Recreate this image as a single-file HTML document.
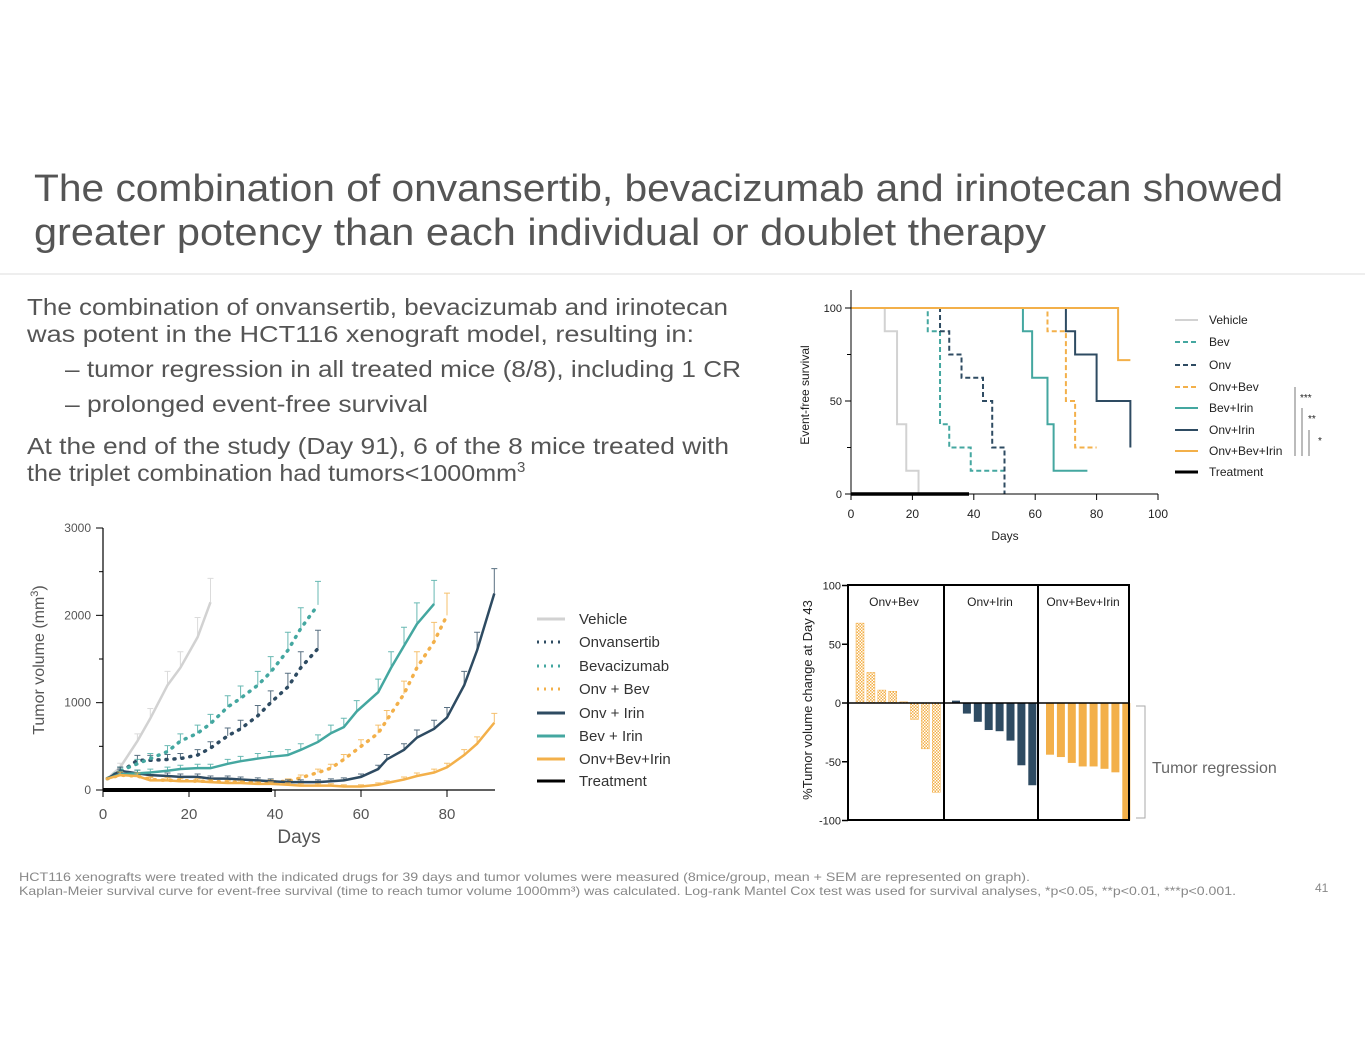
<!DOCTYPE html>
<html><head><meta charset="utf-8"><style>
body{margin:0;background:#fff;font-family:"Liberation Sans",sans-serif}
svg{display:block}
</style></head><body>
<svg id="s" width="1365" height="1055" xmlns="http://www.w3.org/2000/svg" font-family="Liberation Sans, sans-serif">
<text x="34" y="201" font-size="38" fill="#555" textLength="1249" lengthAdjust="spacingAndGlyphs">The combination of onvansertib, bevacizumab and irinotecan showed</text>
<text x="34" y="245" font-size="38" fill="#555" textLength="1012" lengthAdjust="spacingAndGlyphs">greater potency than each individual or doublet therapy</text>
<rect x="0" y="273" width="1365" height="2" fill="#eee"/>
<g fill="#555" font-size="23">
<text x="27" y="315" textLength="701" lengthAdjust="spacingAndGlyphs">The combination of onvansertib, bevacizumab and irinotecan</text>
<text x="27" y="342" textLength="667" lengthAdjust="spacingAndGlyphs">was potent in the HCT116 xenograft model, resulting in:</text>
<text x="65" y="377" textLength="676" lengthAdjust="spacingAndGlyphs">–  tumor regression in all treated mice (8/8), including 1 CR</text>
<text x="65" y="412" textLength="363" lengthAdjust="spacingAndGlyphs">–  prolonged event-free survival</text>
<text x="27" y="454" textLength="702" lengthAdjust="spacingAndGlyphs">At the end of the study (Day 91), 6 of the 8 mice treated with</text>
<text x="27" y="481"><tspan textLength="490" lengthAdjust="spacingAndGlyphs">the triplet combination had tumors&lt;1000mm</tspan><tspan font-size="15" dy="-9">3</tspan></text>
</g>
<g fill="#888" font-size="12">
<text x="19" y="881" textLength="1011" lengthAdjust="spacingAndGlyphs">HCT116 xenografts were treated with the indicated drugs for 39 days and tumor volumes were measured (8mice/group, mean + SEM are represented on graph).</text>
<text x="19" y="895" textLength="1217" lengthAdjust="spacingAndGlyphs">Kaplan-Meier survival curve for event-free survival (time to reach tumor volume 1000mm³) was calculated. Log-rank Mantel Cox test was used for survival analyses, *p&lt;0.05, **p&lt;0.01, ***p&lt;0.001.</text>
<text x="1315" y="892">41</text>
</g>
<g id="tv"></g>
<g id="km"></g>
<g id="wf"></g>
</svg>
<script>
const NS="http://www.w3.org/2000/svg";
function mk(p,t,a,txt){const e=document.createElementNS(NS,t);for(const k in a)e.setAttribute(k,a[k]);if(txt!==undefined)e.textContent=txt;p.appendChild(e);return e;}
const C={grey:"#d2d2d2",teal:"#44a7a0",dark:"#2e4b62",orange:"#f3b04a"};

// ---- tumor volume data ----
const tvNames=["Vehicle","Onvansertib","Bevacizumab","Onv + Bev","Onv + Irin","Bev + Irin","Onv+Bev+Irin"];
const dVeh=[1,4,8,11,15,18,22,25];
const vVeh=[130,260,560,820,1200,1400,1750,2150];
const dMono=[1,4,8,11,15,18,22,25,29,32,36,39,43,46,50];
const vOnv=[130,200,340,340,350,360,400,480,620,700,850,1000,1180,1400,1620];
const vBev=[130,220,300,360,440,560,650,760,950,1050,1200,1350,1600,1850,2120];
const dOB=[1,4,8,11,15,18,22,25,29,32,36,39,43,46,50,53,56,60,64,66,70,73,77,80];
const vOB=[130,170,160,120,110,110,100,100,90,90,90,90,100,140,200,250,350,500,650,800,1100,1400,1700,2000];
const dBI=[1,4,8,11,15,18,22,25,29,32,36,39,43,46,50,53,56,59,64,67,70,73,77];
const vBI=[130,180,190,200,220,240,250,250,300,330,360,380,400,460,550,650,720,900,1120,1400,1650,1900,2130];
const dLong=[1,4,8,11,15,18,22,25,29,32,36,39,43,46,50,53,56,60,64,66,70,73,77,80,84,87,91];
const vOI=[130,220,190,170,160,150,150,130,130,120,110,100,90,90,90,100,110,150,240,350,460,600,700,830,1200,1600,2250];
const vTri=[130,170,160,110,110,100,100,90,80,80,70,70,60,50,50,50,40,40,60,80,120,160,200,260,400,530,770];
const tvYTicks=[0,1000,2000,3000];
const tvXTicks=[0,20,40,60,80];
const tvX=d=>103+d*4.3, tvY=v=>790-v*0.08733;
(function(){
 const g=document.getElementById('tv');
 const series=[
  {d:dVeh,v:vVeh,c:C.grey,da:""},
  {d:dMono,v:vOnv,c:C.dark,da:"1 7"},
  {d:dMono,v:vBev,c:C.teal,da:"1 7"},
  {d:dOB,v:vOB,c:C.orange,da:"1 7"},
  {d:dLong,v:vOI,c:C.dark,da:""},
  {d:dBI,v:vBI,c:C.teal,da:""},
  {d:dLong,v:vTri,c:C.orange,da:""}];
 series.forEach((s,i)=>{
  s.d.forEach((d,j)=>{ if(j>0){const e=s.v[j]*0.12+15;
   const l=mk(g,'path',{d:`M${tvX(d)},${tvY(s.v[j])}V${tvY(s.v[j]+e)}M${tvX(d)-3},${tvY(s.v[j]+e)}H${tvX(d)+3}`,stroke:s.c,'stroke-width':1,fill:'none',opacity:0.8});
   }});
  const p=mk(g,'polyline',{points:s.d.map((d,j)=>tvX(d)+','+tvY(s.v[j])).join(' '),fill:'none',stroke:s.c,'stroke-width':s.da?3.5:2.5,'stroke-dasharray':s.da,'stroke-linecap':s.da?'round':'butt'});
  
 });
 mk(g,'line',{x1:103,y1:790,x2:272,y2:790,stroke:'#000','stroke-width':4});
 mk(g,'line',{x1:103,y1:528,x2:103,y2:790,stroke:'#000','stroke-width':1.2});
 mk(g,'line',{x1:103,y1:790,x2:495,y2:790,stroke:'#000','stroke-width':1.2});
 tvYTicks.forEach(t=>{mk(g,'line',{x1:96,x2:103,y1:tvY(t),y2:tvY(t),stroke:'#000'});
  mk(g,'text',{x:91,y:tvY(t)+4,'font-size':12,'text-anchor':'end',fill:'#555'},t);});
 [500,1500,2500].forEach(t=>mk(g,'line',{x1:99,x2:103,y1:tvY(t),y2:tvY(t),stroke:'#000'}));
 tvXTicks.forEach(t=>{mk(g,'line',{x1:tvX(t),x2:tvX(t),y1:790,y2:797,stroke:'#000'});
  mk(g,'text',{x:tvX(t),y:819,'font-size':15,'text-anchor':'middle',fill:'#555'},t);});
 mk(g,'text',{x:299,y:843,'font-size':19,'text-anchor':'middle',fill:'#555'},'Days');
 const yt=mk(g,'text',{x:44,y:660,'font-size':16,'text-anchor':'middle',fill:'#555',transform:'rotate(-90 44 660)'},'Tumor volume (mm');
 mk(yt,'tspan',{'font-size':11,dy:-6},'3');mk(yt,'tspan',{dy:6},')');
 const ly=[619,642,666,689,713,736,759,781];
 const lc=[[C.grey,""],[C.dark,"2 5"],[C.teal,"2 5"],[C.orange,"2 5"],[C.dark,""],[C.teal,""],[C.orange,""],["#000",""]];
 const ln=tvNames.concat(["Treatment"]);
 ln.forEach((n,i)=>{const e=mk(g,'line',{x1:537,x2:565,y1:ly[i],y2:ly[i],stroke:lc[i][0],'stroke-width':3,'stroke-dasharray':lc[i][1]});
  
  mk(g,'text',{x:579,y:ly[i]+5,'font-size':15,fill:'#333'},n);});
})();

// ---- KM data ----
const kmNames=["Vehicle","Bev","Onv","Onv+Bev","Bev+Irin","Onv+Irin","Onv+Bev+Irin"];
const kmVehT=[0,11,15,18,22], kmVehS=[100,87.5,37.5,12.5,0];
const kmBevT=[0,25,29,32,39,50], kmBevS=[100,87.5,37.5,25,12.5,0];
const kmOnvT=[0,29,32,36,43,46,50], kmOnvS=[100,87.5,75,62.5,50,25,0];
const kmOBT=[0,64,70,73,80], kmOBS=[100,87.5,50,25,25];
const kmBIT=[0,56,59,64,66,77], kmBIS=[100,87.5,62.5,37.5,12.5,12.5];
const kmOIT=[0,70,73,80,91], kmOIS=[100,87.5,75,50,25];
const kmTriT=[0,87,91], kmTriS=[100,72,72];
const kmXTicks=[0,20,40,60,80,100], kmYTicks=[0,50,100];
const kmX=d=>851+d*3.07, kmY=s=>494-s*1.86;
(function(){
 const g=document.getElementById('km');
 const se=[[kmVehT,kmVehS,C.grey,""],[kmBevT,kmBevS,C.teal,"5 3"],[kmOnvT,kmOnvS,C.dark,"5 3"],[kmOBT,kmOBS,C.orange,"5 3"],[kmBIT,kmBIS,C.teal,""],[kmOIT,kmOIS,C.dark,""],[kmTriT,kmTriS,C.orange,""]];
 se.forEach((s,i)=>{let d=`M${kmX(s[0][0])},${kmY(s[1][0])}`;
  for(let j=1;j<s[0].length;j++){d+=`H${kmX(s[0][j])}V${kmY(s[1][j])}`;}
  const p=mk(g,'path',{d,fill:'none',stroke:s[2],'stroke-width':2,'stroke-dasharray':s[3]});
  });
 mk(g,'line',{x1:851,y1:494,x2:969,y2:494,stroke:'#000','stroke-width':3.5});
 mk(g,'line',{x1:851,y1:290,x2:851,y2:494,stroke:'#000','stroke-width':1});
 mk(g,'line',{x1:851,y1:494,x2:1158,y2:494,stroke:'#000','stroke-width':1});
 kmYTicks.forEach(t=>{mk(g,'line',{x1:845,x2:851,y1:kmY(t),y2:kmY(t),stroke:'#000'});
  mk(g,'text',{x:842,y:kmY(t)+4,'font-size':11,'text-anchor':'end',fill:'#222'},t);});
 [25,75].forEach(t=>mk(g,'line',{x1:847,x2:851,y1:kmY(t),y2:kmY(t),stroke:'#000'}));
 kmXTicks.forEach(t=>{mk(g,'line',{x1:kmX(t),x2:kmX(t),y1:494,y2:500,stroke:'#000'});
  mk(g,'text',{x:kmX(t),y:518,'font-size':12,'text-anchor':'middle',fill:'#222'},t);});
 mk(g,'text',{x:1005,y:540,'font-size':12,'text-anchor':'middle',fill:'#222'},'Days');
 mk(g,'text',{x:809,y:395,'font-size':12,'text-anchor':'middle',fill:'#222',transform:'rotate(-90 809 395)'},'Event-free survival');
 const ly=[320,342,365,387,408,430,451,472];
 const lc=[[C.grey,""],[C.teal,"5 3"],[C.dark,"5 3"],[C.orange,"5 3"],[C.teal,""],[C.dark,""],[C.orange,""],["#000",""]];
 kmNames.concat(["Treatment"]).forEach((n,i)=>{const e=mk(g,'line',{x1:1175,x2:1198,y1:ly[i],y2:ly[i],stroke:lc[i][0],'stroke-width':i==7?3:2,'stroke-dasharray':lc[i][1]});
  
  mk(g,'text',{x:1209,y:ly[i]+4,'font-size':12,fill:'#222'},n);});
 [[1295,387,'***',1300],[1302,408,'**',1308],[1309,430,'*',1318]].forEach(b=>{
  mk(g,'line',{x1:b[0],x2:b[0],y1:b[1],y2:456,stroke:'#555','stroke-width':0.8});
  mk(g,'text',{x:b[3],y:b[1]+14,'font-size':10,fill:'#222'},b[2]);});
})();

// ---- waterfall data ----
const wfGroups=["Onv+Bev","Onv+Irin","Onv+Bev+Irin"];
const wfOnvBev=[68,26,11,10,1,-14,-39,-76];
const wfOnvIrin=[2,-9,-16,-23,-24,-32,-53,-70];
const wfTriplet=[-44,-46,-51,-54,-54,-56,-59,-100];
const wfYTicks=[100,50,0,-50,-100];
const wfY=v=>703-v*1.175;
(function(){
 const g=document.getElementById('wf');
 const defs=mk(g,'defs',{});
 const pat=mk(defs,'pattern',{id:'chk',width:3,height:3,patternUnits:'userSpaceOnUse'});
 mk(pat,'rect',{width:3,height:3,fill:'#fff'});mk(pat,'rect',{width:1.5,height:1.5,fill:C.orange});mk(pat,'rect',{x:1.5,y:1.5,width:1.5,height:1.5,fill:C.orange});
 const panels=[[848,wfOnvBev,'url(#chk)'],[944,wfOnvIrin,C.dark],[1038,wfTriplet,C.orange]];
 panels.forEach((p,pi)=>{p[1].forEach((v,j)=>{const x=p[0]+8+j*10.9;
   const r=mk(g,'rect',{x,y:Math.min(wfY(v),wfY(0)),width:8,height:Math.abs(wfY(v)-wfY(0)),fill:p[2],stroke:pi==0?C.orange:'none','stroke-width':0.5});
   });
  mk(g,'text',{x:p[0]+(pi==2?45:46),y:606,'font-size':12,'text-anchor':'middle',fill:'#222'},wfGroups[pi]);});
 mk(g,'rect',{x:848,y:585,width:281,height:235,fill:'none',stroke:'#000','stroke-width':2});
 [944,1038].forEach(x=>mk(g,'line',{x1:x,x2:x,y1:585,y2:820,stroke:'#000','stroke-width':2}));
 mk(g,'line',{x1:848,x2:1129,y1:703,y2:703,stroke:'#000','stroke-width':1.5});
 wfYTicks.forEach(t=>{mk(g,'line',{x1:842,x2:848,y1:wfY(t),y2:wfY(t),stroke:'#000','stroke-width':1.5});
  mk(g,'text',{x:841,y:wfY(t)+4,'font-size':11,'text-anchor':'end',fill:'#222'},t);});
 mk(g,'text',{x:812,y:700,'font-size':13,'text-anchor':'middle',fill:'#222',transform:'rotate(-90 812 700)'},'%Tumor volume change at Day 43');
 mk(g,'path',{d:'M1136,706H1145V818H1136',fill:'none',stroke:'#aaa','stroke-width':1});
 mk(g,'text',{x:1152,y:773,'font-size':16,fill:'#666'},'Tumor regression');
})();
</script>
</body></html>
